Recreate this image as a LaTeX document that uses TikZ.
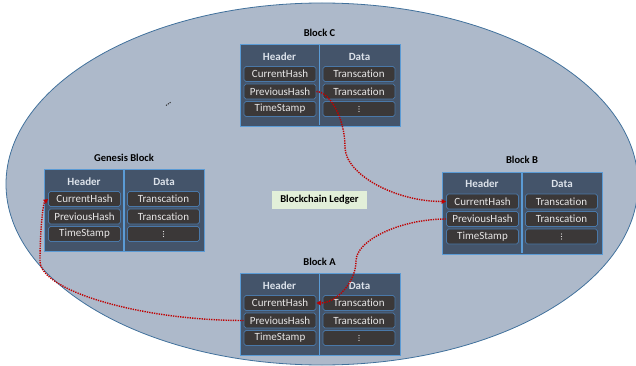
\documentclass[tikz,border=0pt]{standalone}
\usepackage{fontspec}
\setmainfont{Carlito}[Ligatures=NoCommon]
\usetikzlibrary{arrows.meta}

\definecolor{ellfill}{HTML}{ADB9CA}
\definecolor{elledge}{HTML}{41719C}
\definecolor{blockfill}{HTML}{44546A}
\definecolor{blockedge}{HTML}{5B9BD5}
\definecolor{cellfill}{HTML}{3B3838}
\definecolor{celledge}{HTML}{4A78A8}
\definecolor{celltext}{HTML}{E7E6E6}
\definecolor{headtext}{HTML}{DCE2EA}
\definecolor{ledgerfill}{HTML}{E2EFD9}
\definecolor{linkred}{HTML}{C00000}
\definecolor{markgray}{HTML}{2B2B2B}

\tikzset{
  blockbox/.style={draw=blockedge, fill=blockfill, line width=0.8pt,
    minimum width=160pt, minimum height=82pt, inner sep=0pt, anchor=north west},
  divider/.style={draw=blockedge, line width=1.6pt},
  cell/.style={draw=celledge, fill=cellfill, rounded corners=1.8pt, line width=0.7pt,
    minimum width=72pt, minimum height=15pt, inner sep=0pt, text=celltext,
    font=\fontsize{11}{12}\selectfont},
  colhead/.style={text=headtext, inner sep=0pt, font=\fontsize{11}{12}\selectfont\bfseries},
  blocktitle/.style={inner sep=0pt, font=\fontsize{10.5}{12}\selectfont\bfseries},
  dotmark/.style={fill=celltext, draw=none},
  link/.style={draw=linkred, line width=1.4pt, dash pattern=on 1.3pt off 1.1pt,
    -{Triangle[length=4.5pt,width=4.5pt]}},
}

% One ledger block: #1 name prefix, #2/#3 top-left corner, #4 title
\newcommand\ledgerblock[4]{%
  \begin{scope}[shift={(#2,#3)}]
    \node[blockbox] (#1-box) at (0,0) {};
    \draw[divider] (80,0.5) -- (80,81.5);
    \node[blocktitle] (#1-title) at (80,-11.5) {#4};
    \node[colhead] (#1-hdr) at (40,12.5) {Header};
    \node[colhead] (#1-data) at (120,12.5) {Data};
    \node[cell] (#1-cur) at (40.5,30) {CurrentHash};
    \node[cell] (#1-prev) at (40.5,47.5) {PreviousHash};
    \node[cell] (#1-ts) at (40.5,65) {TimeStamp};
    \node[cell] (#1-tx1) at (119.5,30) {Transcation};
    \node[cell] (#1-tx2) at (119.5,47.5) {Transcation};
    \node[cell] (#1-more) at (119.5,65) {};
    \fill[dotmark] (119.5,62.5) circle (0.6pt) (119.5,65) circle (0.6pt) (119.5,67.5) circle (0.6pt);
  \end{scope}}

\begin{document}
\begin{tikzpicture}[x=1pt, y=-1pt]
  \useasboundingbox (0,0) rectangle (636,366);
  \clip (0,0) rectangle (636,366);

  % ledger background
  \draw[fill=ellfill, draw=elledge, line width=0.8pt]
    (322,184) ellipse [x radius=316, y radius=181];

  % stray mark
  \draw[markgray, line width=0.9pt, dash pattern=on 1.2pt off 1pt] (166,105.5) -- (171,102);

  \ledgerblock{C}{239.5}{44}{Block C}
  \ledgerblock{G}{44}{169}{Genesis Block}
  \ledgerblock{B}{442}{171.5}{Block B}
  \ledgerblock{A}{239.5}{273}{Block A}

  \node[fill=ledgerfill, minimum width=95pt, minimum height=18.5pt, inner sep=0pt,
        font=\fontsize{10.5}{12}\selectfont\bfseries] (ledger) at (319.5,200) {Blockchain Ledger};

  % hash links between blocks
  \draw[link] (C-prev.east) .. controls (330.5,92) and (345,119.5) .. (345,147)
              .. controls (345,174.5) and (395.5,201.5) .. (B-cur.west);
  \draw[link] (B-prev.west) .. controls (401,219) and (356,240) .. (356,261)
              .. controls (356,282) and (336.5,303) .. (A-cur.east);
  \draw[link] (A-prev.west) .. controls (142,320.5) and (40,291) .. (40,261)
              .. controls (40,231) and (43,203) .. (G-cur.west);
\end{tikzpicture}
\end{document}
